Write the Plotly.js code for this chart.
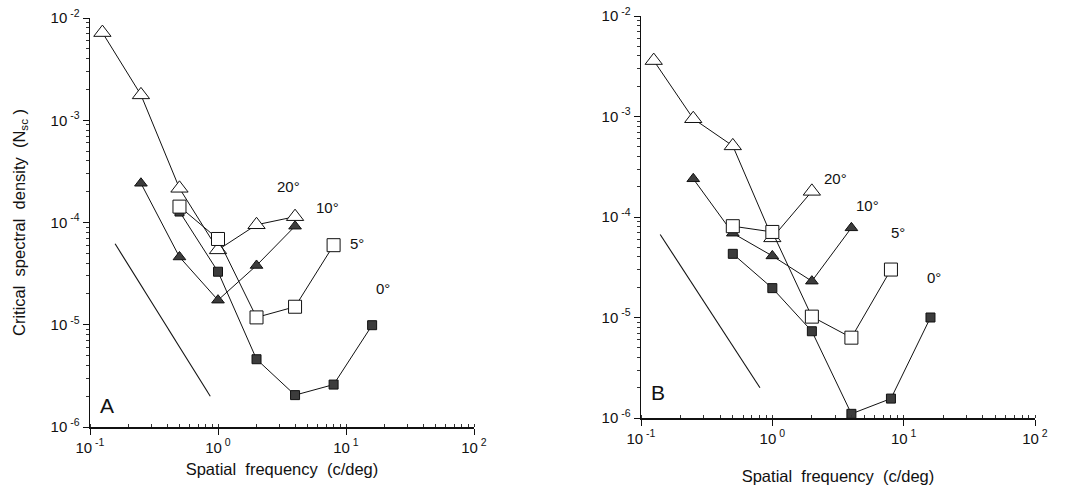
<!DOCTYPE html>
<html>
<head>
<meta charset="utf-8">
<script src="https://cdn.plot.ly/plotly-3.0.1.min.js"></script>
<style>
  html, body { margin: 0; padding: 0; background: #fff; }
  #chart { width: 1068px; height: 495px; }
</style>
</head>
<body>
<div id="chart"></div>
<script>
// Critical spectral density versus spatial frequency, at four eccentricities.

// Panel A
const freqA20 = [0.125, 0.25, 0.5, 1, 2, 4];
const valA20  = [7.2e-3, 1.77e-3, 2.16e-4, 5.4e-5, 9.5e-5, 1.14e-4];
const freqA10 = [0.25, 0.5, 1, 2, 4];
const valA10  = [2.42e-4, 4.6e-5, 1.74e-5, 3.8e-5, 9.2e-5];
const freqA5  = [0.5, 1, 2, 4, 8];
const valA5   = [1.43e-4, 6.9e-5, 1.18e-5, 1.5e-5, 6.0e-5];
const freqA0  = [0.5, 1, 2, 4, 8, 16];
const valA0   = [1.28e-4, 3.3e-5, 4.6e-6, 2.05e-6, 2.6e-6, 9.9e-6];
const slopeAx = [0.157, 0.87];
const slopeAy = [6.2e-5, 2.0e-6];

// Panel B
const freqB20 = [0.125, 0.25, 0.5, 1, 2];
const valB20  = [3.6e-3, 9.5e-4, 5.1e-4, 6.2e-5, 1.8e-4];
const freqB10 = [0.25, 0.5, 1, 2, 4];
const valB10  = [2.4e-4, 6.9e-5, 4.1e-5, 2.3e-5, 7.8e-5];
const freqB5  = [0.5, 1, 2, 4, 8];
const valB5   = [8.1e-5, 7.1e-5, 1.02e-5, 6.3e-6, 3.0e-5];
const freqB0  = [0.5, 1, 2, 4, 8, 16];
const valB0   = [4.3e-5, 1.96e-5, 7.3e-6, 1.1e-6, 1.56e-6, 1.0e-5];
const slopeBx = [0.14, 0.805];
const slopeBy = [6.7e-5, 2.0e-6];

// Tick labels
const xTickVals = [0.1, 1, 10, 100];
const xTickText = ['10<sup> -1</sup>', '10<sup> 0</sup>', '10<sup> 1</sup>', '10<sup> 2</sup>'];
const yTickVals = [1e-2, 1e-3, 1e-4, 1e-5, 1e-6];
const yTickText = ['10<sup> -2</sup>', '10<sup> -3</sup>', '10<sup> -4</sup>', '10<sup> -5</sup>', '10<sup> -6</sup>'];

// Curve labels (eccentricity)
const eccLabels = ['20°', '10°', '5°', '0°'];

const FONT = 'Liberation Sans, Arial, sans-serif';
const INK = '#111';
const FILL = '#3c3c3c';

function series(x, y, xa, ya, marker) {
  return {
    x: x, y: y, xaxis: xa, yaxis: ya,
    type: 'scatter', mode: 'lines+markers',
    line: { color: INK, width: 1 },
    marker: marker,
    showlegend: false, hoverinfo: 'x+y'
  };
}
const openTri  = { symbol: 'triangle-up', size: 15, color: '#fff', line: { color: INK, width: 1 } };
const fillTri  = { symbol: 'triangle-up', size: 11, color: FILL, line: { color: INK, width: 1 } };
const openSq   = { symbol: 'square', size: 13, color: '#fff', line: { color: INK, width: 1 } };
const fillSq   = { symbol: 'square', size: 9, color: FILL, line: { color: INK, width: 1 } };

function slope(x, y, xa, ya) {
  return { x: x, y: y, xaxis: xa, yaxis: ya, type: 'scatter', mode: 'lines',
           line: { color: INK, width: 1.1 }, showlegend: false, hoverinfo: 'skip' };
}

const traces = [
  slope(slopeAx, slopeAy, 'x', 'y'),
  series(freqA0, valA0, 'x', 'y', fillSq),
  series(freqA10, valA10, 'x', 'y', fillTri),
  series(freqA20, valA20, 'x', 'y', openTri),
  series(freqA5, valA5, 'x', 'y', openSq),
  slope(slopeBx, slopeBy, 'x2', 'y2'),
  series(freqB0, valB0, 'x2', 'y2', fillSq),
  series(freqB10, valB10, 'x2', 'y2', fillTri),
  series(freqB20, valB20, 'x2', 'y2', openTri),
  series(freqB5, valB5, 'x2', 'y2', openSq)
];

function xAxis(domain, anchor, standoff) {
  return {
    type: 'log', range: [-1, 2], domain: domain, anchor: anchor,
    showgrid: false, zeroline: false, showline: true, linecolor: INK, linewidth: 1.5,
    mirror: false, ticks: 'outside', ticklen: 6, tickwidth: 1, tickcolor: INK,
    tickvals: xTickVals, ticktext: xTickText,
    tickfont: { family: FONT, size: 15, color: INK },
    minor: { ticks: 'inside', ticklen: 3, tickwidth: 1, tickcolor: '#333', dtick: 'D1', showgrid: false },
    title: { text: 'Spatial&nbsp; frequency&nbsp; (c/deg)', font: { family: FONT, size: 16.5, color: INK }, standoff: standoff },
    automargin: false, fixedrange: true
  };
}
function yAxis(domain, anchor, withTitle) {
  const ax = {
    type: 'log', range: [-6, -2], domain: domain, anchor: anchor,
    showgrid: false, zeroline: false, showline: true, linecolor: INK, linewidth: 1.5,
    mirror: false, ticks: 'outside', ticklen: 6, tickwidth: 1, tickcolor: INK,
    tickvals: yTickVals, ticktext: yTickText,
    tickfont: { family: FONT, size: 15, color: INK },
    minor: { ticks: 'outside', ticklen: 3, tickwidth: 1, tickcolor: '#333', dtick: 'D1', showgrid: false },
    automargin: false, fixedrange: true
  };
  if (withTitle) {
    ax.title = { text: 'Critical&nbsp; spectral&nbsp; density&nbsp; (N<sub>sc</sub> )',
                 font: { family: FONT, size: 16.5, color: INK }, standoff: 21 };
  }
  return ax;
}

function label(text, x, y, xa, ya, size) {
  return { text: text, x: x, y: y, xref: xa, yref: ya, showarrow: false,
           font: { family: FONT, size: size || 15, color: INK }, xanchor: 'center', yanchor: 'middle' };
}

const annotations = [
  label(eccLabels[0], 0.547, -3.643, 'x', 'y'),
  label(eccLabels[1], 0.859, -3.858, 'x', 'y'),
  label(eccLabels[2], 1.086, -4.21, 'x', 'y'),
  label(eccLabels[3], 1.289, -4.65, 'x', 'y'),
  label('A', -0.867, -5.785, 'x', 'y', 21),
  label(eccLabels[0], 0.481, -3.612, 'x2', 'y2'),
  label(eccLabels[1], 0.725, -3.881, 'x2', 'y2'),
  label(eccLabels[2], 0.954, -4.159, 'x2', 'y2'),
  label(eccLabels[3], 1.229, -4.597, 'x2', 'y2'),
  label('B', -0.870, -5.751, 'x2', 'y2', 21)
];

const layout = {
  width: 1068, height: 495,
  margin: { l: 0, r: 0, t: 0, b: 0 },
  paper_bgcolor: '#fff', plot_bgcolor: '#fff',
  showlegend: false,
  xaxis: xAxis([90 / 1068, 474 / 1068], 'y', 9),
  yaxis: yAxis([1 - 427 / 495, 1 - 18 / 495], 'x', true),
  xaxis2: xAxis([641 / 1068, 1035 / 1068], 'y2', 25),
  yaxis2: yAxis([1 - 418 / 495, 1 - 16 / 495], 'x2', false),
  annotations: annotations
};

Plotly.newPlot('chart', traces, layout, { displayModeBar: false, staticPlot: true });
</script>
</body>
</html>
